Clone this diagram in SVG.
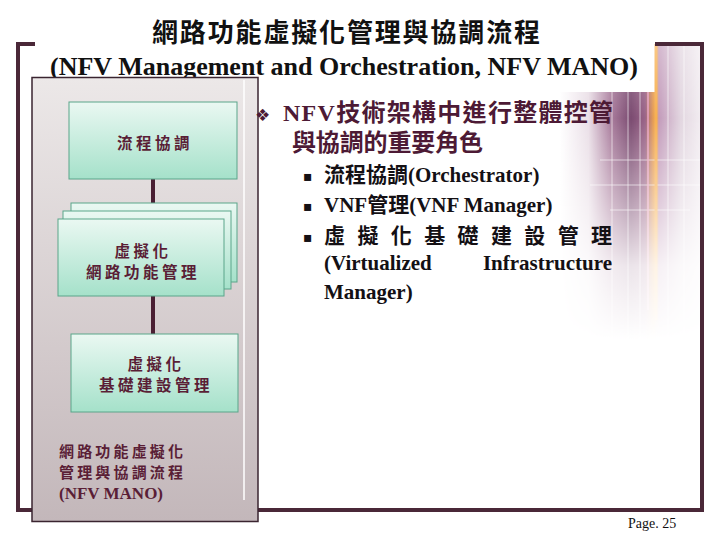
<svg xmlns="http://www.w3.org/2000/svg" width="720" height="540" viewBox="0 0 720 540">
<defs>
<style>
.frame{stroke:#4a2838;stroke-width:4;fill:none}
.box{fill:url(#boxg);stroke:#5aa58a;stroke-width:1}
.conn{stroke:#4a1f33;stroke-width:4;fill:none}
.bt{font-family:"Noto Sans CJK TC","Noto Sans CJK SC",sans-serif;font-weight:bold;font-size:15.5px;fill:#5a1e36;text-anchor:middle;letter-spacing:3.5px}
.cap{font-family:"Noto Sans CJK TC",sans-serif;font-weight:bold;font-size:15px;fill:#5a1e36}
.ser{font-family:"Liberation Serif","Noto Sans CJK TC",serif}
.hd{font-family:"Liberation Serif","Noto Sans CJK TC",serif;font-size:24px;font-weight:bold;fill:#4d1a35}
.bl{font-family:"Liberation Serif","Noto Sans CJK TC",serif;font-size:21px;font-weight:bold;fill:#141014}
.sq{font-family:"DejaVu Sans",sans-serif;font-size:14px;fill:#141014}
</style>
<linearGradient id="boxg" x1="0" y1="0" x2="0" y2="1">
<stop offset="0" stop-color="#eaf8f2"/>
<stop offset="1" stop-color="#a5e1ca"/>
</linearGradient>
<linearGradient id="panelg" x1="0" y1="0" x2="0" y2="1">
<stop offset="0" stop-color="#ece8e8"/>
<stop offset="1" stop-color="#c3b7ba"/>
</linearGradient>
<linearGradient id="decoh" x1="560" y1="0" x2="702" y2="0" gradientUnits="userSpaceOnUse">
<stop offset="0" stop-color="#ffffff"/>
<stop offset="0.2" stop-color="#eadfe7"/>
<stop offset="0.36" stop-color="#a97c9c"/>
<stop offset="0.5" stop-color="#7a4a70"/>
<stop offset="0.6" stop-color="#9a6488"/>
<stop offset="0.66" stop-color="#eaa050"/>
<stop offset="0.7" stop-color="#c39cbb"/>
<stop offset="0.85" stop-color="#e2d6e0"/>
<stop offset="1" stop-color="#f3eef2"/>
</linearGradient>
<linearGradient id="fadev" x1="0" y1="44" x2="0" y2="340" gradientUnits="userSpaceOnUse">
<stop offset="0" stop-color="#fff" stop-opacity="0.7"/>
<stop offset="0.25" stop-color="#fff" stop-opacity="1"/>
<stop offset="0.52" stop-color="#fff" stop-opacity="0.55"/>
<stop offset="0.75" stop-color="#fff" stop-opacity="0.15"/>
<stop offset="1" stop-color="#fff" stop-opacity="0"/>
</linearGradient>
<mask id="decomask">
<rect x="540" y="40" width="170" height="310" fill="url(#fadev)"/>
</mask>
</defs>
<rect width="720" height="540" fill="#ffffff"/>

<g id="decoration" mask="url(#decomask)">
<path d="M655 44 H702 V345 H560 V92 H655 Z" fill="url(#decoh)"/>
<g stroke="#ffffff" stroke-opacity="0.6" stroke-width="1">
<line x1="612" y1="92" x2="612" y2="340"/>
<line x1="628" y1="92" x2="628" y2="340"/>
<line x1="640" y1="92" x2="640" y2="340"/>
<line x1="668" y1="44" x2="668" y2="340"/>
<line x1="684" y1="44" x2="684" y2="340"/>
<line x1="600" y1="160" x2="702" y2="160"/>
<line x1="590" y1="185" x2="702" y2="185"/>
<line x1="610" y1="210" x2="690" y2="210"/>
</g>
<line x1="656" y1="44" x2="656" y2="320" stroke="#f7b050" stroke-width="3"/>
<line x1="648" y1="92" x2="648" y2="310" stroke="#e9a3c4" stroke-width="1.5"/>
</g>

<g id="frame" class="frame">
<polyline points="35,44 18,44 18,512"/>
<line x1="16" y1="510" x2="704" y2="510"/>
<polyline points="655,44 702,44 702,512"/>
</g>

<g id="title">
<text x="346" y="42" text-anchor="middle" font-family="Noto Sans CJK TC, sans-serif" font-weight="bold" font-size="26" fill="#111" textLength="388" lengthAdjust="spacing">網路功能虛擬化管理與協調流程</text>
<text x="344" y="75" text-anchor="middle" class="ser" font-weight="bold" font-size="26" fill="#111" textLength="588" lengthAdjust="spacingAndGlyphs">(NFV Management and Orchestration, NFV MANO)</text>
</g>

<g id="panel">
<rect x="32" y="77.5" width="226" height="444" fill="url(#panelg)" stroke="#3a2430" stroke-width="1.5"/>
<line x1="244" y1="80" x2="244" y2="500" stroke="#ffffff" stroke-width="1.5"/>
</g>

<g id="connectors">
<line class="conn" x1="153" y1="179" x2="153" y2="204"/>
<line class="conn" x1="153" y1="296" x2="153" y2="334"/>
</g>

<g id="node-orchestrator">
<rect class="box" x="69" y="102" width="168" height="77"/>
<text class="bt" x="155" y="149">流程協調</text>
</g>

<g id="node-vnfm">
<rect class="box" x="71" y="203" width="166" height="79"/>
<rect class="box" x="63" y="211" width="168" height="78"/>
<rect class="box" x="58" y="219" width="166" height="77"/>
<text class="bt" x="143" y="257">虛擬化</text>
<text class="bt" x="143" y="278">網路功能管理</text>
</g>

<g id="node-vim">
<rect class="box" x="71" y="334" width="167" height="78"/>
<text class="bt" x="156" y="370">虛擬化</text>
<text class="bt" x="156" y="391">基礎建設管理</text>
</g>

<g id="caption">
<text class="cap" x="59" y="457" textLength="124" lengthAdjust="spacing">網路功能虛擬化</text>
<text class="cap" x="59" y="478" textLength="124" lengthAdjust="spacing">管理與協調流程</text>
<text x="59" y="499" class="ser" font-size="17" font-weight="bold" fill="#5a1e36">(NFV MANO)</text>
</g>

<g id="bullets">
<text x="255" y="121" font-family="DejaVu Sans, sans-serif" font-size="17" fill="#4d1a35">❖</text>
<text class="hd" x="283" y="121" textLength="330" lengthAdjust="spacing">NFV技術架構中進行整體控管</text>
<text class="hd" x="292" y="151" textLength="191" lengthAdjust="spacing">與協調的重要角色</text>
<text class="sq" x="303" y="181">▪</text>
<text class="bl" x="324" y="182">流程協調(Orchestrator)</text>
<text class="sq" x="303" y="211">▪</text>
<text class="bl" x="324" y="212">VNF管理(VNF Manager)</text>
<text class="sq" x="303" y="242">▪</text>
<text class="bl" x="324" y="243" textLength="288" lengthAdjust="spacing">虛擬化基礎建設管理</text>
<text class="bl" x="324" y="270">(Virtualized</text>
<text class="bl" x="612" y="270" text-anchor="end">Infrastructure</text>
<text class="bl" x="324" y="299">Manager)</text>
</g>

<text id="page" x="628" y="528" class="ser" font-size="14" fill="#111">Page. 25</text>
</svg>
